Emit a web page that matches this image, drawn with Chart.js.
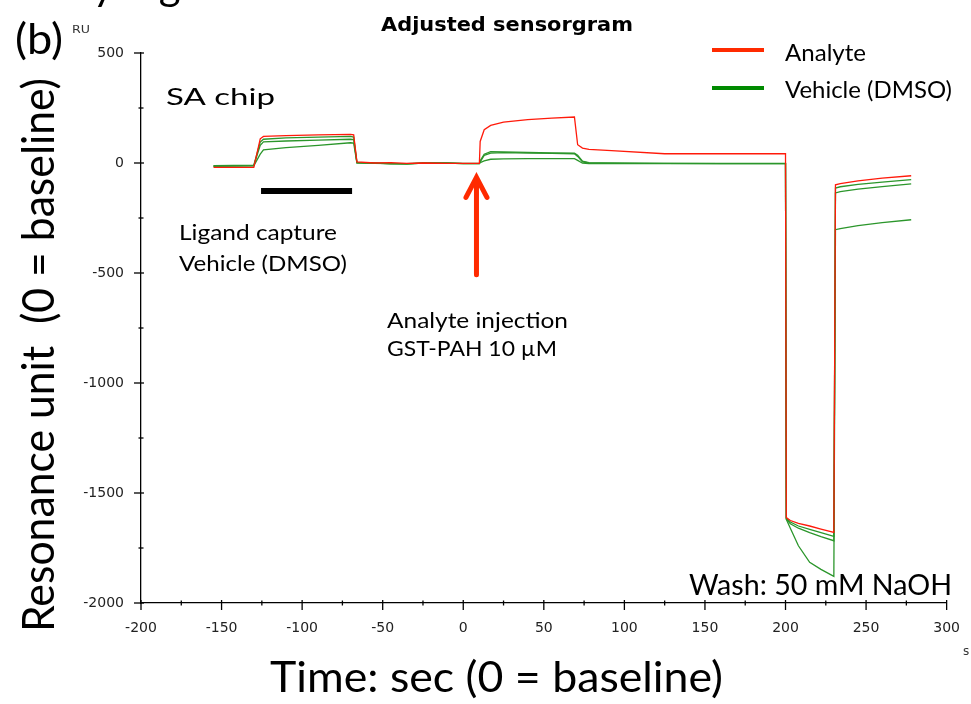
<!DOCTYPE html>
<html>
<head>
<meta charset="utf-8">
<script src="https://cdn.jsdelivr.net/npm/chart.js@4/dist/chart.umd.min.js"></script>
<style>
  html, body { margin: 0; padding: 0; background: #fff; }
  canvas { display: block; }
</style>
</head>
<body>
<canvas id="c" width="971" height="704"></canvas>
<script>
// temps (s), commun à toutes les courbes (0 = baseline)
const temps = [-155, -130, -126, -124, -110, -90, -70, -68, -66, -55, -45, -35, -25, -10, 0, 10, 10.5, 13, 17, 25, 40, 55, 69, 71, 74, 78, 92, 125, 160, 200, 200.5, 203, 208, 215, 222, 230, 231, 234, 245, 260, 278];

// réponses (RU)
const analyte = [-20, -20, 110, 121, 124, 128, 130, 128, 5, 0, 2, -2, 0, -2, -2, -2, 98, 151, 171, 186, 197, 204, 209, 83, 68, 62, 56, 42, 42, 42, -1612, -1625, -1638, -1650, -1664, -1679, -99, -94, -81, -69, -58];
const vehicule1 = [-12, -10, 95, 108, 114, 118, 121, 118, 3, 0, -3, -5, -1, 0, -2, -2, 10, 40, 52, 50, 48, 46, 45, 35, 8, 2, 0, -2, -3, -3, -1615, -1632, -1650, -1665, -1680, -1697, -114, -108, -97, -87, -76];
const vehicule2 = [-14, -12, 80, 96, 100, 104, 108, 106, 2, -1, -4, -3, 0, -1, -3, -3, 5, 35, 45, 47, 45, 44, 42, 30, 5, 0, -2, -2, -2, -2, -1618, -1640, -1660, -1680, -1698, -1717, -136, -130, -119, -107, -95];
const vehicule3 = [-15, -13, 40, 60, 70, 80, 92, 90, 0, -2, -3, -4, -1, -1, -3, -3, 2, 10, 17, 19, 20, 20, 20, 12, -1, -3, -3, -3, -3, -3, -1620, -1660, -1740, -1815, -1847, -1879, -303, -298, -285, -271, -258];

// étiquettes des axes
const xLabels = [-200, -150, -100, -50, 0, 50, 100, 150, 200, 250, 300];
const yLabels = [500, 0, -500, -1000, -1500, -2000];

const ROUGE = "#ff1a0a";
const VERT = "#2b962b";

const pts = (ys) => temps.map((t, i) => ({ x: t, y: ys[i] }));

// petit utilitaire : texte étiré à une largeur donnée
function txt(ctx, s, x, y, size, w, font = "Lato", weight = "") {
  ctx.save();
  ctx.font = `${weight} ${size}px ${font}`;
  ctx.textAlign = "left";
  ctx.textBaseline = "alphabetic";
  const m = ctx.measureText(s).width;
  ctx.translate(x, y);
  if (w) ctx.scale(w / m, 1);
  ctx.fillText(s, 0, 0);
  ctx.restore();
}

const decor = {
  id: "decor",
  afterDraw(chart) {
    const ctx = chart.ctx;
    const sx = chart.scales.x, sy = chart.scales.y;
    const ca = chart.chartArea;
    ctx.save();
    ctx.fillStyle = "#000";
    ctx.strokeStyle = "#000";

    // graduations qui traversent l'axe
    ctx.lineWidth = 1.3;
    for (let v = -200; v <= 300; v += 25) {
      const p = sx.getPixelForValue(v);
      const maj = xLabels.includes(v);
      ctx.beginPath();
      ctx.moveTo(p, ca.bottom - (maj ? 3 : 2.5));
      ctx.lineTo(p, ca.bottom + (maj ? 7 : 2.5));
      ctx.stroke();
    }
    for (let v = -2000; v <= 500; v += 250) {
      const p = sy.getPixelForValue(v);
      const maj = yLabels.includes(v);
      ctx.beginPath();
      ctx.moveTo(ca.left - (maj ? 7 : 2.5), p);
      ctx.lineTo(ca.left + (maj ? 3 : 2.5), p);
      ctx.stroke();
    }

    // titre du logiciel + unités
    txt(ctx, "Adjusted sensorgram", 381, 31, 19, 252, "DejaVu Sans", "bold");
    ctx.fillStyle = "#333";
    txt(ctx, "RU", 72, 33, 11, 18, "DejaVu Sans");
    txt(ctx, "s", 963, 655, 12, 0, "DejaVu Sans");
    ctx.fillStyle = "#000";

    // titre de figure coupé en haut
    ctx.font = "42px Lato";
    const wSup = ctx.measureText("Supplementary ").width;
    txt(ctx, "Supplementary Figure", 125 - wSup, 0, 42, 0);

    txt(ctx, "(b)", 15, 54, 42, 48);
    txt(ctx, "Time: sec (0 = baseline)", 270, 692, 42, 453);
    ctx.save();
    ctx.translate(54, 632);
    ctx.rotate(-Math.PI / 2);
    txt(ctx, "Resonance unit  (0 = baseline)", 0, 0, 44, 554);
    ctx.restore();

    // annotations
    txt(ctx, "SA chip", 166, 105, 24, 109);
    txt(ctx, "Ligand capture", 179, 239.5, 21, 158);
    txt(ctx, "Vehicle (DMSO)", 179, 270.5, 21, 168);
    txt(ctx, "Analyte injection", 387, 327.5, 22, 181);
    txt(ctx, "GST-PAH 10 \u00b5M", 387, 355.5, 22, 170);
    txt(ctx, "Wash: 50 mM NaOH", 689, 595, 28, 263);

    // barre noire : capture du ligand
    ctx.lineWidth = 6;
    ctx.beginPath();
    ctx.moveTo(sx.getPixelForValue(-125.5), sy.getPixelForValue(-127));
    ctx.lineTo(sx.getPixelForValue(-69), sy.getPixelForValue(-127));
    ctx.stroke();

    // flèche rouge : injection
    const ax = sx.getPixelForValue(8.2);
    const tip = sy.getPixelForValue(-61);
    ctx.strokeStyle = "#ff2a00";
    ctx.lineWidth = 5;
    ctx.lineCap = "round";
    ctx.beginPath();
    ctx.moveTo(ax, sy.getPixelForValue(-508));
    ctx.lineTo(ax, tip + 2);
    ctx.moveTo(ax - 10.5, tip + 21);
    ctx.lineTo(ax, tip + 1);
    ctx.lineTo(ax + 10.5, tip + 21);
    ctx.stroke();

    // légende
    ctx.lineCap = "butt";
    ctx.lineWidth = 4;
    ctx.strokeStyle = "#ff2a00";
    ctx.beginPath(); ctx.moveTo(712, 50); ctx.lineTo(764, 50); ctx.stroke();
    ctx.strokeStyle = "#008a00";
    ctx.beginPath(); ctx.moveTo(712, 88); ctx.lineTo(764, 88); ctx.stroke();
    txt(ctx, "Analyte", 785, 61, 23, 81);
    txt(ctx, "Vehicle (DMSO)", 785, 97.5, 23, 167);

    ctx.restore();
  },
};

const ligne = (label, ys, couleur) => ({
  label,
  data: pts(ys),
  borderColor: couleur,
  backgroundColor: couleur,
  borderWidth: 1.3,
  pointRadius: 0,
  tension: 0,
  fill: false,
});

new Chart(document.getElementById("c").getContext("2d"), {
  type: "line",
  data: {
    datasets: [
      ligne("Analyte", analyte, ROUGE),
      ligne("Vehicle (DMSO)", vehicule1, VERT),
      ligne("Vehicle (DMSO) 2", vehicule2, VERT),
      ligne("Vehicle (DMSO) 3", vehicule3, VERT),
    ],
  },
  options: {
    responsive: false,
    animation: false,
    layout: { padding: { top: 53, right: 16, left: 0, bottom: 0 } },
    plugins: {
      legend: { display: false },
      title: { display: false },
      tooltip: { enabled: false },
    },
    scales: {
      x: {
        type: "linear",
        min: -200,
        max: 300,
        afterFit: (s) => { s.height = 101; },
        grid: { drawOnChartArea: false, tickLength: 6, tickColor: "rgba(0,0,0,0)" },
        border: { color: "#000", width: 1.3 },
        ticks: {
          stepSize: 25,
          autoSkip: false,
          maxRotation: 0,
          padding: 11,
          color: "#222",
          font: { family: "DejaVu Sans", size: 14 },
          callback: (v) => (xLabels.includes(v) ? String(v) : ""),
        },
      },
      y: {
        type: "linear",
        min: -2000,
        max: 500,
        afterFit: (s) => { s.width = 141; },
        grid: { drawOnChartArea: false, tickLength: 6, tickColor: "rgba(0,0,0,0)" },
        border: { color: "#000", width: 1.3 },
        ticks: {
          stepSize: 250,
          autoSkip: false,
          padding: 11,
          color: "#222",
          font: { family: "DejaVu Sans", size: 14 },
          callback: (v) => (yLabels.includes(v) ? String(v) : ""),
        },
      },
    },
  },
  plugins: [decor],
});
</script>
</body>
</html>
